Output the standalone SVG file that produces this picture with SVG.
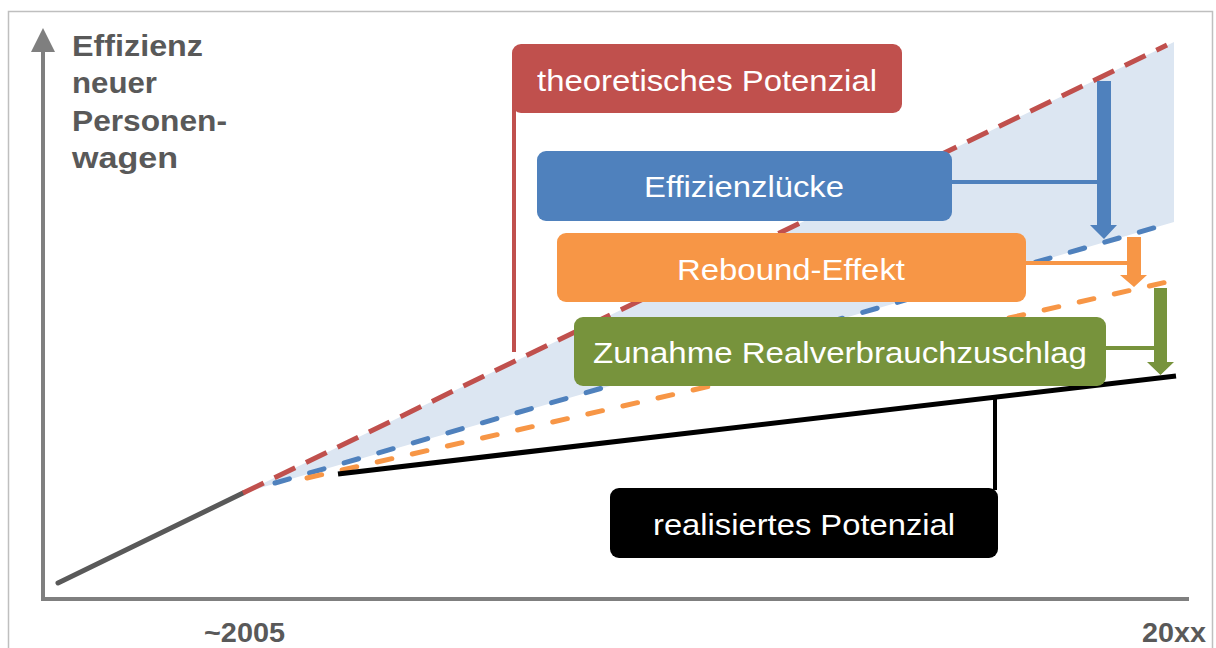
<svg xmlns="http://www.w3.org/2000/svg" width="1216" height="648" viewBox="0 0 1216 648">
<style>
.lbl{font-family:"Liberation Sans",Arial,sans-serif;font-size:30px;fill:#FFFFFF;text-anchor:middle}
.ax{font-family:"Liberation Sans",Arial,sans-serif;font-size:30px;font-weight:bold;fill:#595959}
.yr{font-family:"Liberation Sans",Arial,sans-serif;font-size:28px;font-weight:bold;fill:#595959}
.dash{fill:none;stroke-width:5}
</style>
<rect x="0" y="0" width="1216" height="648" fill="#FFFFFF"/>
<rect x="8.5" y="11.5" width="1204" height="660" fill="none" stroke="#BFBFBF" stroke-width="1.5"/>
<g id="axes">
<line x1="43" y1="601" x2="43" y2="50" stroke="#7F7F7F" stroke-width="4"/>
<polygon points="43,28 31,52 55,52" fill="#7F7F7F"/>
<line x1="41" y1="599" x2="1189" y2="599" stroke="#7F7F7F" stroke-width="4"/>
<text class="ax" x="72" y="56" textLength="131" lengthAdjust="spacingAndGlyphs">Effizienz</text>
<text class="ax" x="72" y="93" textLength="85" lengthAdjust="spacingAndGlyphs">neuer</text>
<text class="ax" x="72" y="131" textLength="155" lengthAdjust="spacingAndGlyphs">Personen-</text>
<text class="ax" x="72" y="168" textLength="106" lengthAdjust="spacingAndGlyphs">wagen</text>
<text class="yr" x="204" y="642" textLength="81" lengthAdjust="spacingAndGlyphs">~2005</text>
<text class="yr" x="1142" y="642" textLength="64" lengthAdjust="spacingAndGlyphs">20xx</text>
</g>
<g id="connectors">
<polygon points="243,493 1174,42 1174,222" fill="#DCE6F2"/>
<line x1="58" y1="583" x2="243" y2="493" stroke="#595959" stroke-width="5" stroke-linecap="round"/>
<line class="dash" x1="243" y1="493" x2="1167" y2="45" stroke="#C0504D" stroke-dasharray="23 12"/>
<line class="dash" x1="275" y1="483" x2="1157" y2="227" stroke="#4F81BD" stroke-dasharray="15 21" stroke-linecap="round"/>
<line class="dash" x1="307" y1="478" x2="1167" y2="282" stroke="#F79646" stroke-dasharray="15 21" stroke-linecap="round"/>
<line x1="338" y1="474" x2="1176" y2="376" stroke="#000000" stroke-width="5"/>
<line x1="514" y1="100" x2="514" y2="352" stroke="#C0504D" stroke-width="4"/>
<line x1="995" y1="397" x2="995" y2="490" stroke="#000000" stroke-width="4"/>
<line x1="940" y1="182" x2="1099" y2="182" stroke="#4F81BD" stroke-width="4"/>
<polygon points="1097,81 1111,81 1111,225 1117,225 1104,239 1090,225 1097,225" fill="#4F81BD"/>
<line x1="1016" y1="263" x2="1129" y2="263" stroke="#F79646" stroke-width="4"/>
<polygon points="1127,237 1141,237 1141,275 1147,275 1134,287 1120,275 1127,275" fill="#F79646"/>
<line x1="1096" y1="348" x2="1156" y2="348" stroke="#77933C" stroke-width="4"/>
<polygon points="1154,288 1167,288 1167,362 1174,362 1160.5,375 1147,362 1154,362" fill="#77933C"/>
</g>
<g id="node-theoretisch">
<rect x="512" y="44" width="390" height="69" rx="9" fill="#C0504D"/>
<text class="lbl" x="707" y="91" textLength="340" lengthAdjust="spacingAndGlyphs">theoretisches Potenzial</text>
</g>
<g id="node-effizienzluecke">
<rect x="537" y="151" width="415" height="70" rx="9" fill="#4F81BD"/>
<text class="lbl" x="744" y="197" textLength="200" lengthAdjust="spacingAndGlyphs">Effizienzlücke</text>
</g>
<g id="node-rebound">
<rect x="557" y="233" width="469" height="69" rx="9" fill="#F79646"/>
<text class="lbl" x="791" y="280" textLength="228" lengthAdjust="spacingAndGlyphs">Rebound-Effekt</text>
</g>
<g id="node-zuschlag">
<rect x="574" y="317" width="532" height="69" rx="9" fill="#77933C"/>
<text class="lbl" x="840" y="363" textLength="494" lengthAdjust="spacingAndGlyphs">Zunahme Realverbrauchzuschlag</text>
</g>
<g id="node-realisiert">
<rect x="610" y="488" width="388" height="70" rx="9" fill="#000000"/>
<text class="lbl" x="804" y="535" textLength="302" lengthAdjust="spacingAndGlyphs">realisiertes Potenzial</text>
</g>
</svg>
